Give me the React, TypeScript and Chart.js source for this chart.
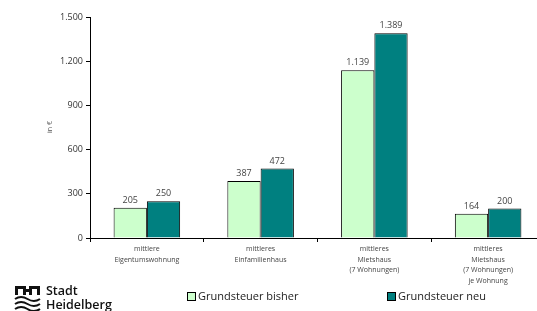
import React, { useEffect, useRef } from "react";
import { Chart, registerables } from "chart.js";

Chart.register(...registerables);

const categories: string[][] = [
  ["mittlere", "Eigentumswohnung"],
  ["mittleres", "Einfamilienhaus"],
  ["mittleres", "Mietshaus", "(7 Wohnungen)"],
  ["mittleres", "Mietshaus", "(7 Wohnungen)", "je Wohnung"],
];
const seriesNames = ["Grundsteuer bisher", "Grundsteuer neu"];
const bisher = [205, 387, 1139, 164];
const neu = [250, 472, 1389, 200];
const yTicks = [0, 300, 600, 900, 1200, 1500];
const axisTitle = "in €";
const logoLines = ["Stadt", "Heidelberg"];

const colors = ["#CCFFCC", "#008080"];

const fmt = (v: number) => {
  const s = Math.round(v).toString();
  return s.replace(/\B(?=(\d{3})+(?!\d))/g, ".");
};

const FONT = "'Open Sans', 'DejaVu Sans', sans-serif";

const overlayPlugin = {
  id: "overlay",
  afterDatasetsDraw(chart: any) {
    const ctx = chart.ctx;
    ctx.save();
    // data labels
    ctx.fillStyle = "#444";
    ctx.font = `9px ${FONT}`;
    ctx.textAlign = "center";
    ctx.textBaseline = "bottom";
    chart.data.datasets.forEach((ds: any, di: number) => {
      const meta = chart.getDatasetMeta(di);
      meta.data.forEach((el: any, i: number) => {
        ctx.fillText(fmt(ds.data[i]), el.x, el.y - 3);
      });
    });
    // axis title
    ctx.save();
    ctx.translate(50, 127);
    ctx.rotate(-Math.PI / 2);
    ctx.font = `7px ${FONT}`;
    ctx.fillStyle = "#555";
    ctx.textAlign = "center";
    ctx.textBaseline = "middle";
    ctx.fillText(axisTitle, 0, 0);
    ctx.restore();
    // legend
    const legendX = [187, 387];
    seriesNames.forEach((name, i) => {
      const x = legendX[i];
      ctx.fillStyle = colors[i];
      ctx.fillRect(x, 292, 8, 8);
      ctx.strokeStyle = "#000";
      ctx.lineWidth = 1;
      ctx.strokeRect(x + 0.5, 292.5, 8, 8);
      ctx.fillStyle = "#222";
      ctx.font = `11px ${FONT}`;
      ctx.textAlign = "left";
      ctx.textBaseline = "middle";
      ctx.fillText(name, x + 11, 296.5);
    });
    // logo icon
    ctx.fillStyle = "#111";
    ctx.fillRect(15, 286, 11, 3);
    ctx.fillRect(15, 286, 3, 9);
    ctx.fillRect(23, 286, 3, 9);
    ctx.fillRect(26, 289, 4, 3);
    ctx.fillRect(29, 286, 11, 3);
    ctx.fillRect(29, 286, 3, 9);
    ctx.fillRect(37, 286, 3, 9);
    ctx.strokeStyle = "#111";
    ctx.lineWidth = 2;
    for (let k = 0; k < 3; k++) {
      const y = 299 + k * 5;
      ctx.beginPath();
      ctx.moveTo(15, y);
      ctx.quadraticCurveTo(21, y - 4, 27.5, y);
      ctx.quadraticCurveTo(34, y + 4, 40, y);
      ctx.stroke();
    }
    ctx.fillStyle = "#111";
    ctx.font = `600 12.5px ${FONT}`;
    ctx.textAlign = "left";
    ctx.textBaseline = "alphabetic";
    ctx.fillText(logoLines[0], 46, 295);
    ctx.fillText(logoLines[1], 46, 309);
    ctx.restore();
  },
};

export default function App() {
  const ref = useRef<HTMLCanvasElement>(null);
  useEffect(() => {
    if (!ref.current) return;
    const chart = new Chart(ref.current, {
      type: "bar",
      data: {
        labels: categories,
        datasets: [
          {
            label: seriesNames[0],
            data: bisher,
            backgroundColor: colors[0],
            borderColor: "#000",
            borderWidth: 1,
            categoryPercentage: 0.585,
            barPercentage: 1,
          },
          {
            label: seriesNames[1],
            data: neu,
            backgroundColor: colors[1],
            borderColor: "#000",
            borderWidth: 1,
            categoryPercentage: 0.585,
            barPercentage: 1,
          },
        ],
      },
      options: {
        responsive: false,
        animation: false,
        layout: { padding: { left: 0, right: 0, top: 17, bottom: 0 } },
        plugins: { legend: { display: false }, tooltip: { enabled: false } },
        scales: {
          x: {
            grid: {
              offset: true,
              drawOnChartArea: false,
              drawTicks: true,
              tickLength: 4,
              color: "#000",
            },
            border: { color: "#000", width: 1 },
            ticks: {
              color: "#444",
              font: { family: FONT, size: 7, lineHeight: 1.5 },
              padding: 2,
              maxRotation: 0,
              autoSkip: false,
            },
            afterFit(scale: any) {
              scale.height = 73;
            },
          },
          y: {
            min: 0,
            max: 1500,
            afterBuildTicks(scale: any) {
              scale.ticks = yTicks.map((v) => ({ value: v }));
            },
            grid: {
              drawOnChartArea: false,
              drawTicks: true,
              tickLength: 4,
              color: "#000",
            },
            border: { color: "#000", width: 1 },
            ticks: {
              color: "#333",
              font: { family: FONT, size: 9 },
              padding: 3,
              callback: (v: any) => fmt(Number(v)),
            },
            afterFit(scale: any) {
              scale.width = 90;
            },
          },
        },
      },
      plugins: [overlayPlugin],
    });
    return () => chart.destroy();
  }, []);
  return (
    <div
      style={{
        position: "fixed",
        left: 0,
        top: 0,
        width: 537,
        height: 311,
        overflow: "hidden",
        background: "#fff",
      }}
    >
      <canvas ref={ref} width={545} height={311} style={{ width: 545, height: 311 }} />
    </div>
  );
}
